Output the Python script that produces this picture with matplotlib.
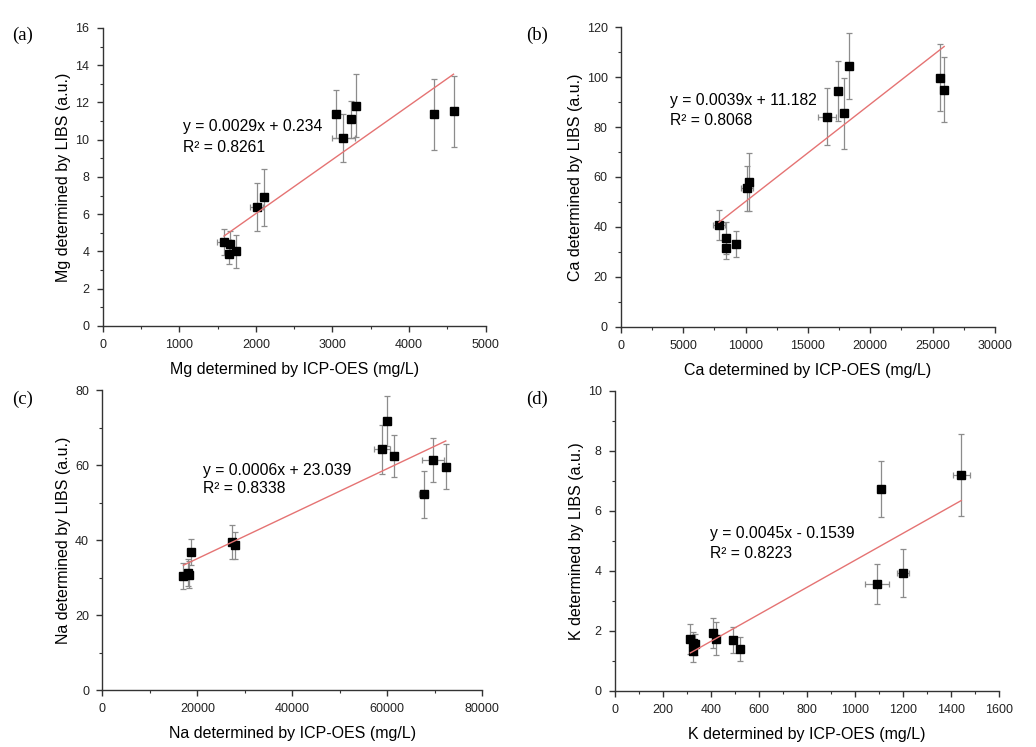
import numpy as np
import matplotlib
matplotlib.use('Agg')
import matplotlib.pyplot as plt
from matplotlib.ticker import MultipleLocator

plt.rcParams['font.family'] = ['Liberation Sans', 'DejaVu Sans']

# (a) Mg
mg_icp = [1584, 1662, 1650, 1736, 2009, 2104, 3048, 3143, 3247, 3307, 4325, 4580]
mg_icp_err = [87, 40, 40, 40, 80, 30, 40, 150, 40, 35, 40, 30]
mg_libs = [4.49, 4.42, 3.85, 4.0, 6.38, 6.9, 11.37, 10.1, 11.1, 11.83, 11.37, 11.53]
mg_libs_err = [0.7, 0.7, 0.5, 0.9, 1.3, 1.55, 1.3, 1.3, 1.0, 1.7, 1.9, 1.9]

# (b) Ca
ca_icp = [7859, 8444, 8420, 9198, 10104, 10289, 16520, 17426, 17907, 18284, 25557, 25926]
ca_icp_err = [450, 150, 150, 150, 450, 150, 720, 150, 150, 150, 150, 150]
ca_libs = [40.6, 35.5, 31.6, 33.1, 55.4, 58.0, 84.2, 94.3, 85.5, 104.4, 99.8, 95.0]
ca_libs_err = [6.0, 6.5, 4.5, 5.3, 9.0, 11.8, 11.4, 12.0, 14.3, 13.2, 13.3, 13.0]

# (c) Na
na_icp = [17053, 18042, 18253, 18610, 27368, 27937, 58821, 60000, 61411, 67663, 69684, 72295]
na_icp_err = [400, 400, 400, 400, 400, 400, 1680, 400, 400, 900, 2300, 400]
na_libs = [30.5, 31.3, 30.8, 36.9, 39.5, 38.6, 64.2, 71.8, 62.4, 52.2, 61.3, 59.6]
na_libs_err = [3.5, 3.6, 3.6, 3.5, 4.6, 3.6, 6.6, 6.6, 5.6, 6.2, 5.9, 6.0]

# (d) K
k_icp = [314, 326, 332, 324, 408, 421, 493, 521, 1092, 1108, 1200, 1443]
k_icp_err = [10, 10, 10, 10, 12, 12, 10, 10, 50, 8, 24, 35]
k_libs = [1.72, 1.6, 1.54, 1.31, 1.92, 1.73, 1.68, 1.4, 3.56, 6.72, 3.93, 7.2]
k_libs_err = [0.5, 0.35, 0.35, 0.37, 0.5, 0.55, 0.43, 0.4, 0.67, 0.93, 0.8, 1.37]

panels = [
    dict(tag='(a)', el='Mg', x=mg_icp, xe=mg_icp_err, y=mg_libs, ye=mg_libs_err,
         slope=0.0029, icpt=0.234, eq='y = 0.0029x + 0.234', r2='R² = 0.8261',
         xlim=5000, xmaj=1000, ylim=16, ymaj=2, ymin=1, txt=(0.209, 0.668, 0.60),
         rect=[0.0991, 0.5636, 0.3697, 0.399]),
    dict(tag='(b)', el='Ca', x=ca_icp, xe=ca_icp_err, y=ca_libs, ye=ca_libs_err,
         slope=0.0039, icpt=11.182, eq='y = 0.0039x + 11.182', r2='R² = 0.8068',
         xlim=30000, xmaj=5000, ylim=120, ymaj=20, ymin=10, txt=(0.131, 0.754, 0.687),
         rect=[0.5994, 0.5627, 0.361, 0.4008]),
    dict(tag='(c)', el='Na', x=na_icp, xe=na_icp_err, y=na_libs, ye=na_libs_err,
         slope=0.0006, icpt=23.039, eq='y = 0.0006x + 23.039', r2='R² = 0.8338',
         xlim=80000, xmaj=20000, ylim=80, ymaj=20, ymin=10, txt=(0.266, 0.733, 0.672),
         rect=[0.0988, 0.0763, 0.3668, 0.4016]),
    dict(tag='(d)', el='K', x=k_icp, xe=k_icp_err, y=k_libs, ye=k_libs_err,
         slope=0.0045, icpt=-0.1539, eq='y = 0.0045x - 0.1539', r2='R² = 0.8223',
         xlim=1600, xmaj=200, ylim=10, ymaj=2, ymin=1, txt=(0.247, 0.525, 0.458),
         rect=[0.5936, 0.0754, 0.3707, 0.4016]),
]

fig = plt.figure(figsize=(10.36, 7.47), dpi=100)

for p in panels:
    ax = fig.add_axes(p['rect'])
    ax.errorbar(p['x'], p['y'], xerr=p['xe'], yerr=p['ye'], fmt='none',
                ecolor='#8c8c8c', elinewidth=0.9, capsize=2.5, capthick=0.9, zorder=2)
    ax.plot(p['x'], p['y'], 's', color='black', markersize=5.5, zorder=3)
    # linear fit line across the data range
    xs = np.array([min(p['x']), max(p['x'])])
    ax.plot(xs, p['slope'] * xs + p['icpt'], color='#e57373', linewidth=1.0, zorder=4)

    tx, ty1, ty2 = p['txt']
    ax.text(tx, ty1, p['eq'], transform=ax.transAxes, fontsize=11.3, va='center')
    ax.text(tx, ty2, p['r2'], transform=ax.transAxes, fontsize=11.3, va='center')

    ax.set_xlim(0, p['xlim'])
    ax.set_ylim(0, p['ylim'])
    ax.xaxis.set_major_locator(MultipleLocator(p['xmaj']))
    ax.xaxis.set_minor_locator(MultipleLocator(p['xmaj'] / 2))
    ax.yaxis.set_major_locator(MultipleLocator(p['ymaj']))
    ax.yaxis.set_minor_locator(MultipleLocator(p['ymin']))
    ax.spines['top'].set_visible(False)
    ax.spines['right'].set_visible(False)
    for s in ['left', 'bottom']:
        ax.spines[s].set_linewidth(1.0)
        ax.spines[s].set_color('#333333')
    ax.tick_params(which='major', direction='out', length=4.5, width=1, labelsize=9, pad=5,
                   color='#333333', labelcolor='#222222')
    ax.tick_params(which='minor', direction='out', length=2.5, width=0.8, color='#333333')
    ax.set_xlabel(p['el'] + ' determined by ICP-OES (mg/L)', fontsize=11.5, labelpad=8)
    ax.set_ylabel(p['el'] + ' determined by LIBS (a.u.)', fontsize=11.5, labelpad=3)

label_pos = {'(a)': (0.012, 0.953), '(b)': (0.508, 0.953), '(c)': (0.012, 0.466), '(d)': (0.508, 0.466)}
for p in panels:
    lx, ly = label_pos[p['tag']]
    fig.text(lx, ly, p['tag'], fontsize=13.5, family=['Liberation Serif', 'DejaVu Serif'], va='center')

fig.savefig('out.png', dpi=100)
